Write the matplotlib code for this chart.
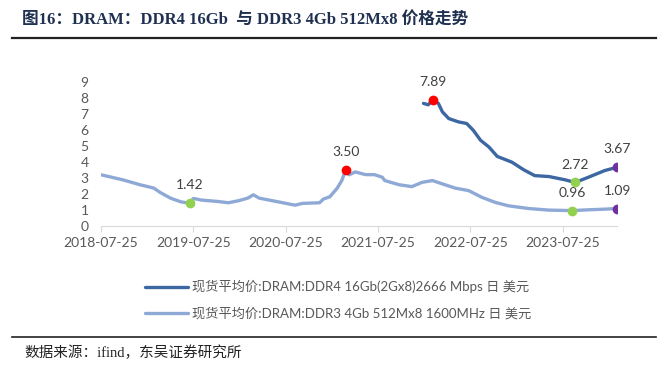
import matplotlib
matplotlib.use("Agg")
import matplotlib.pyplot as plt
from matplotlib.lines import Line2D
import pandas as pd

# DDR3 4Gb 512Mx8 1600MHz spot price (USD)
ddr3_dates = ["2018-07-25", "2018-10-20", "2018-12-25", "2019-02-18", "2019-03-15",
              "2019-04-25", "2019-06-05", "2019-07-10", "2019-07-25", "2019-08-25",
              "2019-10-30", "2019-12-10", "2020-01-20", "2020-02-25", "2020-03-18",
              "2020-04-10", "2020-06-01", "2020-08-30", "2020-09-28", "2020-12-05",
              "2020-12-20", "2021-01-15", "2021-02-13", "2021-03-03", "2021-03-18",
              "2021-04-01", "2021-04-25", "2021-06-05", "2021-07-10", "2021-08-10",
              "2021-08-20", "2021-10-15", "2021-12-05", "2022-01-15", "2022-02-25",
              "2022-04-05", "2022-05-25", "2022-07-18", "2022-09-08", "2022-11-01",
              "2022-12-22", "2023-03-12", "2023-06-01", "2023-08-30", "2023-11-04",
              "2024-01-08", "2024-02-25"]
ddr3_vals = [3.20, 2.88, 2.58, 2.37, 2.10,
             1.74, 1.51, 1.42, 1.72, 1.62,
             1.53, 1.45, 1.58, 1.74, 1.95,
             1.74, 1.58, 1.30, 1.41, 1.45,
             1.68, 1.83, 2.37, 2.84, 3.50,
             3.20, 3.38, 3.21, 3.21, 3.05,
             2.84, 2.58, 2.46, 2.73, 2.84,
             2.63, 2.37, 2.21, 1.79, 1.47,
             1.26, 1.09, 0.99, 0.96, 1.01,
             1.05, 1.09]

# DDR4 16Gb(2Gx8)2666 Mbps spot price (USD)
ddr4_dates = ["2022-01-20", "2022-02-08", "2022-02-25", "2022-03-20", "2022-04-05",
              "2022-04-30", "2022-06-08", "2022-07-10", "2022-08-05", "2022-09-03",
              "2022-10-06", "2022-11-08", "2023-01-05", "2023-02-21", "2023-04-05",
              "2023-06-01", "2023-08-05", "2023-09-12", "2023-11-04", "2024-01-08",
              "2024-02-25"]
ddr4_vals = [7.67, 7.58, 7.89, 7.67, 7.14,
             6.72, 6.51, 6.41, 5.99, 5.36,
             4.94, 4.35, 3.99, 3.51, 3.15,
             3.09, 2.88, 2.72, 3.05, 3.47,
             3.67]

# highlighted points
mark_dates = ["2019-07-10", "2021-03-18", "2022-02-25", "2023-09-12", "2023-08-30",
              "2024-02-25", "2024-02-25"]
mark_vals = [1.42, 3.50, 7.89, 2.72, 0.96, 3.67, 1.09]
mark_colors = ["#92D050", "#FF0000", "#FF0000", "#92D050", "#92D050", "#7030A0", "#7030A0"]

xtick_labels = ["2018-07-25", "2019-07-25", "2020-07-25", "2021-07-25",
                "2022-07-25", "2023-07-25"]

c_ddr4 = "#3C67A3"
c_ddr3 = "#8EA9D6"
num_font = ["Lato", "Noto Sans CJK SC"]

fig = plt.figure(figsize=(6.7, 3.65), dpi=100)
ax = fig.add_axes([0.151, 0.381, 0.770, 0.394])

ax.plot(pd.to_datetime(ddr4_dates), ddr4_vals, color=c_ddr4, lw=2.4,
        solid_capstyle="round", label="现货平均价:DRAM:DDR4 16Gb(2Gx8)2666 Mbps 日 美元")
ax.plot(pd.to_datetime(ddr3_dates), ddr3_vals, color=c_ddr3, lw=2.4,
        solid_capstyle="round", label="现货平均价:DRAM:DDR3 4Gb 512Mx8 1600MHz 日 美元")

for d, v, c in zip(pd.to_datetime(mark_dates), mark_vals, mark_colors):
    ax.plot(d, v, "o", color=c, ms=6, zorder=5)
    ax.annotate(f"{v:.2f}", (d, v), xytext=(0, 8.5), textcoords="offset points",
                ha="center", va="bottom", fontsize=10, color="#404040", family=num_font)

ax.set_ylim(0, 9)
ax.set_yticks(range(0, 10))
ax.set_xlim(pd.Timestamp("2018-07-25"), pd.Timestamp("2024-02-25"))
ax.set_xticks(pd.to_datetime(xtick_labels))
ax.set_xticklabels(xtick_labels)

for s in ["top", "right", "left"]:
    ax.spines[s].set_visible(False)
ax.spines["bottom"].set_color("#D9D9D9")
ax.tick_params(axis="y", length=0, pad=9, labelsize=10, labelcolor="#595959")
ax.tick_params(axis="x", length=4, color="#D9D9D9", pad=4, labelsize=10, labelcolor="#595959")
for lab in ax.get_xticklabels() + ax.get_yticklabels():
    lab.set_family(num_font)

leg = fig.legend(loc="upper center", bbox_to_anchor=(0.505, 0.265), ncol=1, frameon=False,
                 handlelength=3.3, handletextpad=0.3, labelspacing=1.05,
                 prop={"family": num_font, "size": 9.5})
for t in leg.get_texts():
    t.set_color("#595959")

# title and footer
fig.text(0.033, 0.945, "图16：DRAM：DDR4 16Gb  与 DDR3 4Gb 512Mx8 价格走势", fontsize=12,
         fontweight="bold", color="#1F3050", va="center",
         family=["Liberation Serif", "Noto Sans CJK SC"])
fig.add_artist(Line2D([0.018, 0.979], [0.896, 0.896], color="#222222", lw=1.6))
fig.add_artist(Line2D([0.018, 0.979], [0.077, 0.077], color="#222222", lw=1.2))
fig.text(0.037, 0.034, "数据来源：ifind，东吴证券研究所", fontsize=10.5, color="#222222",
         va="center", family=["Liberation Serif", "Noto Sans CJK SC"])

fig.savefig("out.png", dpi=100)
